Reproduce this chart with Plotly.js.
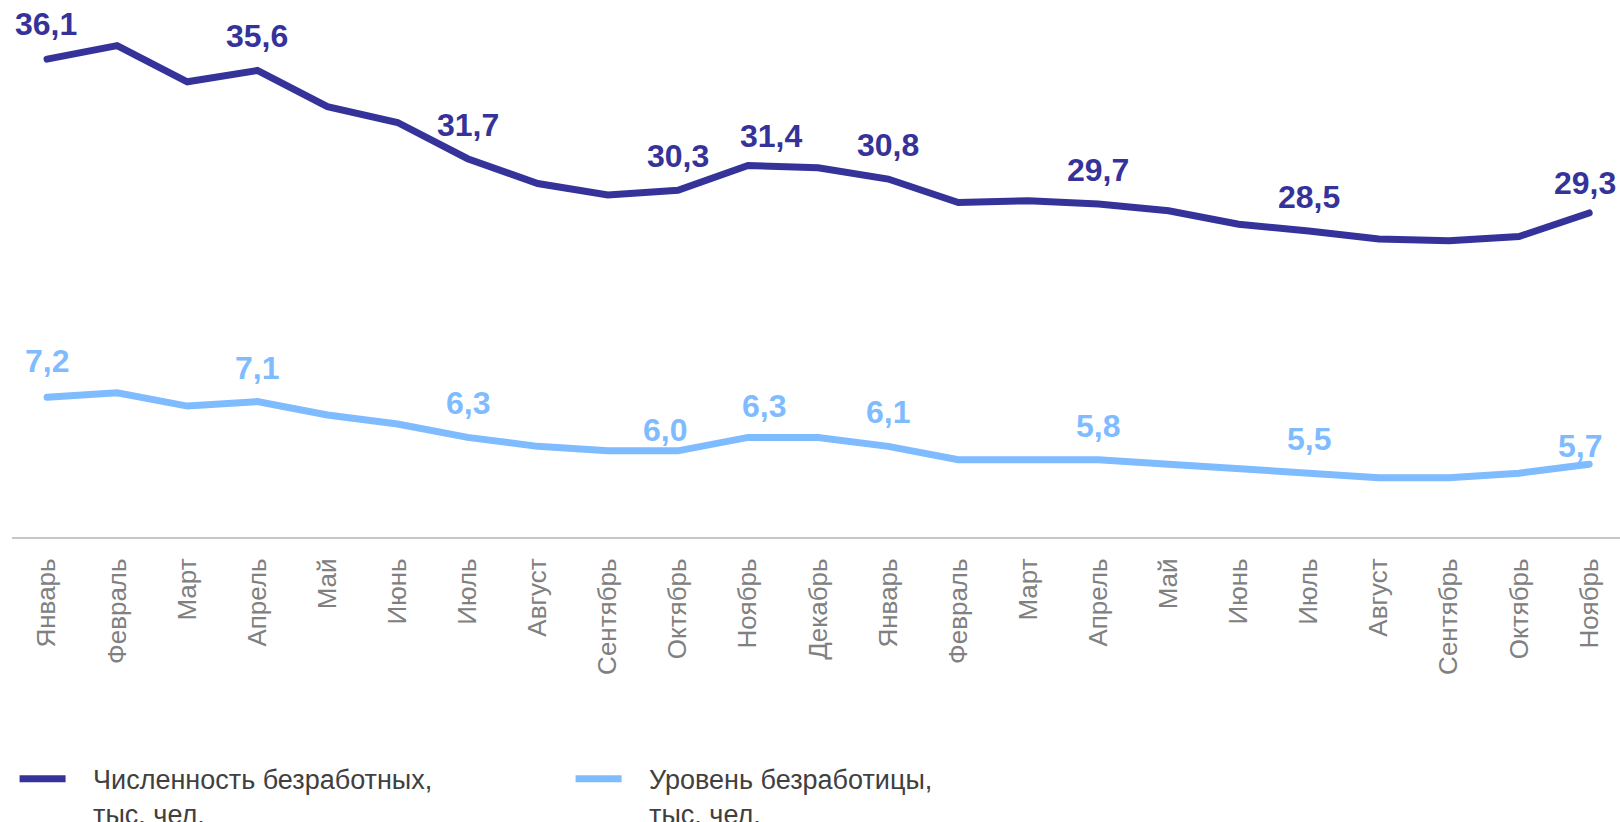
<!DOCTYPE html>
<html>
<head>
<meta charset="utf-8">
<script src="https://cdn.plot.ly/plotly-3.0.1.min.js"></script>
<style>
  html, body { margin: 0; padding: 0; background: #ffffff; }
  #chart { width: 1620px; height: 822px; }
  .scatterlayer .js-line { stroke-linecap: round; }
</style>
</head>
<body>
<div id="chart"></div>
<script>
// ---- data ----
const months = ['Январь','Февраль','Март','Апрель','Май','Июнь','Июль','Август','Сентябрь','Октябрь','Ноябрь','Декабрь',
                'Январь','Февраль','Март','Апрель','Май','Июнь','Июль','Август','Сентябрь','Октябрь','Ноябрь'];
const unemployed = [36.1, 36.7, 35.1, 35.6, 34.0, 33.3, 31.7, 30.6, 30.1, 30.3, 31.4, 31.3,
                    30.8, 29.76, 29.84, 29.7, 29.4, 28.8, 28.5, 28.15, 28.07, 28.26, 29.3];
const rate = [7.2, 7.3, 7.0, 7.1, 6.8, 6.6, 6.3, 6.1, 6.0, 6.0, 6.3, 6.3,
              6.1, 5.8, 5.8, 5.8, 5.7, 5.6, 5.5, 5.4, 5.4, 5.5, 5.7];
const labelIdx = [0, 3, 6, 9, 10, 12, 15, 18, 22];
const seriesNames = [['Численность безработных,', 'тыс. чел.'], ['Уровень безработицы,', 'тыс. чел.']];

// ---- styling ----
const darkColor = '#35339a';
const lightColor = '#7fbbff';
const FONT = 'Liberation Sans, Arial, sans-serif';
const xIdx = months.map((m, i) => i);
const fmt = v => v.toFixed(1).replace('.', ',');
const pad = '\u00a0\u00a0\u00a0';
const legendName = lines => lines.map(s => pad + s).join('<br>');

// label offsets (px) [dx, dy]
const defShift = [0, 34];
const darkAdj = {0: [-1, 35], 10: [23, 29], 22: [-4, 30]};
const lightAdj = {0: [0, 36], 9: [-13, 21], 10: [16, 31], 22: [-9, 18]};

const annotations = [];
labelIdx.forEach(i => {
  const a = darkAdj[i] || defShift;
  annotations.push({x: i, y: unemployed[i], xref: 'x', yref: 'y', text: fmt(unemployed[i]),
    showarrow: false, xanchor: 'center', yanchor: 'middle', xshift: a[0], yshift: a[1],
    font: {family: FONT, size: 32, color: darkColor, weight: 'bold'}});
  const b = lightAdj[i] || defShift;
  annotations.push({x: i, y: rate[i], xref: 'x', yref: 'y2', text: fmt(rate[i]),
    showarrow: false, xanchor: 'center', yanchor: 'middle', xshift: b[0], yshift: b[1],
    font: {family: FONT, size: 32, color: lightColor, weight: 'bold'}});
});

const traces = [
  {x: xIdx, y: unemployed, type: 'scatter', mode: 'lines', name: legendName(seriesNames[0]),
   line: {color: darkColor, width: 7}, yaxis: 'y', hoverinfo: 'skip'},
  {x: xIdx, y: rate, type: 'scatter', mode: 'lines', name: legendName(seriesNames[1]),
   line: {color: lightColor, width: 7}, yaxis: 'y2', hoverinfo: 'skip'}
];

const layout = {
  width: 1620, height: 822,
  margin: {l: 12, r: 0, t: 0, b: 285},
  paper_bgcolor: '#ffffff', plot_bgcolor: '#ffffff',
  font: {family: FONT},
  showlegend: true,
  legend: {
    orientation: 'h', xref: 'container', yref: 'container',
    x: 0.009, xanchor: 'left', y: 0.082, yanchor: 'top', valign: 'top',
    font: {family: FONT, size: 27, color: '#404040'},
    itemwidth: 46, entrywidth: 495, bgcolor: 'rgba(0,0,0,0)'
  },
  xaxis: {
    range: [-0.5, 22.44], tickmode: 'array', tickvals: xIdx, ticktext: months,
    tickangle: -90, tickfont: {family: FONT, size: 26, color: '#808080'},
    showgrid: false, zeroline: false, showline: true, linecolor: '#c8c8c8', linewidth: 2,
    ticks: 'outside', ticklen: 9, tickcolor: 'rgba(0,0,0,0)', fixedrange: true
  },
  yaxis: {range: [14.975, 38.715], visible: false, fixedrange: true},
  yaxis2: {range: [4.073, 16.081], overlaying: 'y', visible: false, fixedrange: true},
  annotations: annotations
};

Plotly.newPlot('chart', traces, layout, {displayModeBar: false, staticPlot: true});
</script>
</body>
</html>
